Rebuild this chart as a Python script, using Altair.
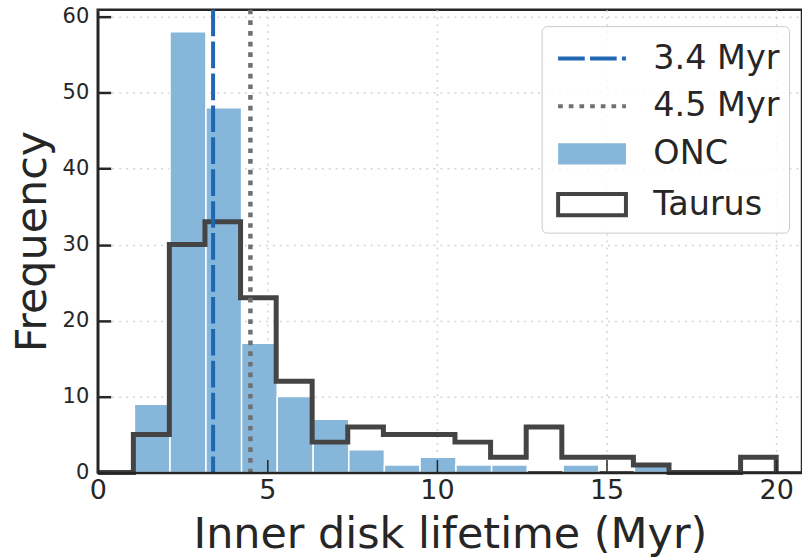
import altair as alt
import pandas as pd

# ONC histogram (filled bars)
onc_left = [1.08, 2.13, 3.19, 4.24, 5.29, 6.35, 7.40, 8.45, 9.50, 10.56, 11.61, 12.66, 13.72, 14.77, 15.82]
onc_right = [2.13, 3.19, 4.24, 5.29, 6.35, 7.40, 8.45, 9.50, 10.56, 11.61, 12.66, 13.72, 14.77, 15.82, 16.88]
onc_counts = [9, 58, 48, 17, 10, 7, 3, 1, 2, 1, 1, 0, 1, 0, 1]

# Taurus histogram (step outline)
taurus_edges = [0.0, 1.05, 2.11, 3.16, 4.21, 5.26, 6.32, 7.37, 8.42, 9.47, 10.53,
                11.58, 12.63, 13.68, 14.74, 15.79, 16.84, 17.89, 18.95, 20.0]
taurus_counts = [0, 5, 30, 33, 23, 12, 4, 6, 5, 5, 4, 2, 6, 2, 2, 1, 0, 0, 2]

# vertical reference lines
line_values = [3.4, 4.5]
line_labels = ["3.4 Myr", "4.5 Myr"]

legend_labels = ["3.4 Myr", "4.5 Myr", "ONC", "Taurus"]
x_ticks = [0, 5, 10, 15, 20]
y_ticks = [0, 10, 20, 30, 40, 50, 60]

BLUE = "#1f67b2"
GREY = "#707070"
ONC_C = "#86b6d9"
TAU_C = "#444444"
TXT = "#262626"
FONT = "DejaVu Sans"

onc_df = pd.DataFrame({"left": onc_left, "right": onc_right, "count": onc_counts})
onc_df = onc_df[onc_df["count"] > 0]

tx, ty = [], []
for e, c in zip(taurus_edges[:-1], taurus_counts):
    tx.append(e)
    ty.append(c)
tx += [taurus_edges[-1], taurus_edges[-1]]
ty += [taurus_counts[-1], 0]
tau_df = pd.DataFrame({"x": tx, "y": ty, "i": list(range(len(tx)))})

rule_df = pd.DataFrame({"x": line_values, "label": line_labels})
leg_df = pd.DataFrame({"label": legend_labels})

xscale = alt.Scale(domain=[0, 20.76], nice=False, zero=False)
yscale = alt.Scale(domain=[0, 60.92], nice=False)

grid_kw = dict(grid=True, gridDash=[2, 5], gridColor="#d4d4d4", gridWidth=1.5)

x_main = alt.Axis(orient="bottom", values=x_ticks, ticks=False, tickSize=0, domain=False,
                  labelFontSize=27, labelColor=TXT, labelPadding=5, labelFlush=False,
                  title="Inner disk lifetime (Myr)", titleFontSize=43, titleFontWeight="normal",
                  titleColor=TXT, titlePadding=10, format="d", **grid_kw)
y_main = alt.Axis(orient="left", values=y_ticks, ticks=False, tickSize=0, domain=False,
                  labelFontSize=21, labelColor=TXT, labelPadding=9, labelFlush=False,
                  title="Frequency", titleFontSize=43, titleFontWeight="normal",
                  titleColor=TXT, titlePadding=8, format="d", **grid_kw)

x_ticks_ax = alt.Axis(orient="bottom", values=x_ticks, ticks=True, tickSize=13, tickWidth=1.5,
                      tickColor=TXT, labels=False, domain=False, grid=False, title=None,
                      offset=-13, zindex=1)
y_ticks_ax = alt.Axis(orient="left", values=y_ticks, ticks=True, tickSize=13, tickWidth=2.5,
                      tickColor=TXT, labels=False, domain=False, grid=False, title=None,
                      offset=-13, zindex=1)

x_dom = alt.Axis(orient="bottom", values=x_ticks, ticks=False, labels=False, domain=True,
                 domainColor=TXT, domainWidth=2.5, grid=False, title=None, zindex=1)
y_dom = alt.Axis(orient="left", values=y_ticks, ticks=False, labels=False, domain=True,
                 domainColor=TXT, domainWidth=2.5, grid=False, title=None, zindex=1)

bars = alt.Chart(onc_df).mark_bar(color=ONC_C, stroke="white", strokeWidth=1.5).encode(
    x=alt.X("left:Q", scale=xscale, axis=x_main),
    x2="right:Q",
    y=alt.Y("count:Q", scale=yscale, axis=y_main),
    y2=alt.datum(0),
)

taurus = alt.Chart(tau_df).mark_line(interpolate="step-after", color=TAU_C, strokeWidth=5,
                                     strokeJoin="miter", strokeCap="butt").encode(
    x=alt.X("x:Q", scale=xscale, axis=x_ticks_ax),
    y=alt.Y("y:Q", scale=yscale, axis=y_ticks_ax),
    order=alt.Order("i:Q"),
)

rule_blue = alt.Chart(rule_df[rule_df["label"] == "3.4 Myr"]).mark_rule(
    color=BLUE, strokeWidth=4, strokeDash=[26.7, 5.3]).encode(
    x=alt.X("x:Q", scale=xscale, axis=None))
rule_grey = alt.Chart(rule_df[rule_df["label"] == "4.5 Myr"]).mark_rule(
    color=GREY, strokeWidth=4.5, strokeDash=[4.7, 6]).encode(
    x=alt.X("x:Q", scale=xscale, axis=None))

spines = alt.Chart(onc_df).mark_bar(opacity=0).encode(
    x=alt.X("left:Q", scale=xscale, axis=x_dom),
    x2="right:Q",
    y=alt.Y("count:Q", scale=yscale, axis=y_dom),
    y2=alt.datum(0),
)

line_path = "M-1.6,0H1.6"
rect_path = "M-1.6,-0.5H1.6V0.5H-1.6Z"
leg = alt.Legend(title=None, orient="none", legendX=445, legendY=16.5)
legend_layer = alt.Chart(leg_df).mark_point(opacity=0).encode(
    fill=alt.Fill("label:N", scale=alt.Scale(domain=legend_labels,
                  range=["transparent", "transparent", ONC_C, "white"]), legend=leg),
    stroke=alt.Stroke("label:N", scale=alt.Scale(domain=legend_labels,
                      range=[BLUE, GREY, "transparent", TAU_C]), legend=leg),
    strokeDash=alt.StrokeDash("label:N", scale=alt.Scale(domain=legend_labels,
                              range=[[26.7, 5.3], [4.7, 6], [1, 0], [1, 0]]), legend=leg),
    shape=alt.Shape("label:N", scale=alt.Scale(domain=legend_labels,
                    range=[line_path, line_path, rect_path, rect_path]), legend=leg),
)

chart = alt.layer(bars, taurus, rule_blue, rule_grey, spines, legend_layer).resolve_axis(
    x="independent", y="independent"
).properties(
    width=706, height=464,
    autosize=alt.AutoSizeParams(type="none"),
    padding={"left": 98, "top": 9, "right": 0, "bottom": 86},
).configure(
    font=FONT,
).configure_view(
    stroke=TXT, strokeWidth=2.5,
).configure_legend(
    labelFontSize=33.5, labelColor=TXT, labelFont=FONT,
    symbolSize=1806, symbolStrokeWidth=4, symbolOpacity=1,
    padding=9, rowPadding=7.8, symbolOffset=18, labelOffset=38,
    strokeColor="#cccccc", fillColor="rgba(255,255,255,0.8)", cornerRadius=5,
)

chart.save("out.html", embed_options={"renderer": "svg", "actions": False})
